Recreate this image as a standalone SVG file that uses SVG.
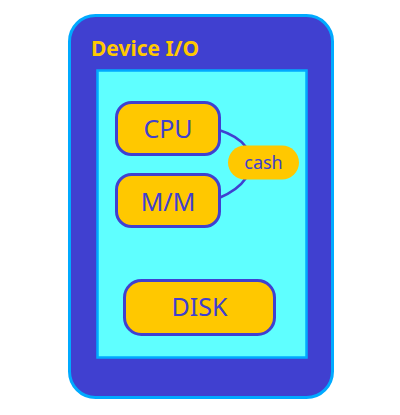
<svg xmlns="http://www.w3.org/2000/svg" width="400" height="415" viewBox="0 0 400 415">
<style>
.node rect{fill:#ffc800;stroke:#4040d0;stroke-width:3}
.lbl{font-family:"Noto Sans","Open Sans",sans-serif;fill:#4040d0;text-anchor:middle}
.conn{fill:none;stroke:#4040d0;stroke-width:2.5}
</style>
<g id="device">
<rect x="69.5" y="15.5" width="263" height="382" rx="26" fill="#4040d0" stroke="#00aaff" stroke-width="3"/>
<text x="91" y="56" font-family="Noto Sans, Open Sans, sans-serif" font-weight="bold" font-size="21" fill="#ffc800">Device I/O</text>
</g>
<g id="board">
<rect x="97.5" y="70.5" width="209" height="287" fill="#5fffff" stroke="#00aaff" stroke-width="2.5"/>
</g>
<g id="connectors">
<path class="conn" d="M219,130 Q238,136 246,147"/>
<path class="conn" d="M219,198 Q238,190 246,178"/>
</g>
<g id="cpu" class="node">
<rect x="116.5" y="102.5" width="103" height="52" rx="15"/>
<text class="lbl" x="168" y="138" font-size="25">CPU</text>
</g>
<g id="mm" class="node">
<rect x="116.5" y="174.5" width="103" height="52" rx="15"/>
<text class="lbl" x="168" y="211" font-size="25">M/M</text>
</g>
<g id="cash">
<rect x="228" y="145.5" width="71" height="34" rx="17" fill="#ffc800"/>
<text class="lbl" x="263.5" y="169" font-size="18">cash</text>
</g>
<g id="disk" class="node">
<rect x="124.5" y="280.5" width="150" height="54" rx="17"/>
<text class="lbl" x="199.5" y="316" font-size="25">DISK</text>
</g>
</svg>
